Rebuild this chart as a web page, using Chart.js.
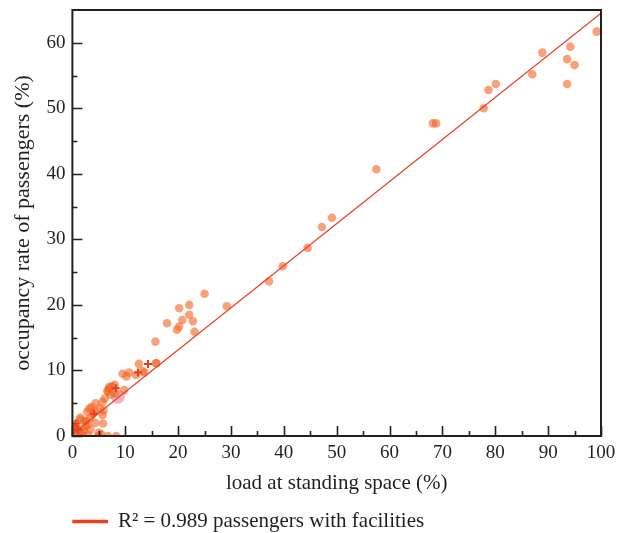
<!DOCTYPE html>
<html>
<head>
<meta charset="utf-8">
<script src="https://cdn.jsdelivr.net/npm/chart.js@4/dist/chart.umd.min.js"></script>
<style>
  html, body { margin: 0; padding: 0; background: #fff; }
  #wrap { width: 617px; height: 533px; }
</style>
</head>
<body>
<div id="wrap"><canvas id="chart"></canvas></div>
<script>
// measured points (load at standing space %, occupancy %)
const loadX = [99.2, 94.2, 88.9, 93.6, 95.0, 87.0, 93.6, 80.1, 78.7, 77.8, 68.2, 68.8,
  57.5, 49.1, 47.2, 44.5, 39.8, 37.2, 29.2, 25.0, 22.1, 20.2, 22.1, 20.8, 22.8, 17.9,
  20.2, 19.8, 23.1, 15.7, 15.9, 12.6, 15.8, 13.6, 13.3, 10.7, 10.2, 8.0, 6.9, 8.1,
  6.8, 6.1, 5.7, 4.4, 5.9, 4.2, 2.8, 3.9, 3.3, 5.8, 2.4, 0.8, 1.0, 2.2, 3.4, 5.0,
  6.7, 8.3, 0.3, 0.6, 2.0, 3.0, 2.8, 4.8, 1.4, 7.2, 9.5, 7.5, 5.2, 1.5, 0.4, 3.6, 1.2,
  12.0, 9.8, 6.6, 7.0, 5.7, 3.2, 2.6, 4.3, 1.5, 2.5, 0.5, 1.8, 5.4];
const occY = [61.7, 59.4, 58.5, 57.5, 56.6, 55.2, 53.7, 53.7, 52.8, 50.0, 47.7, 47.7,
  40.7, 33.3, 31.9, 28.7, 25.9, 23.6, 19.8, 21.7, 20.0, 19.5, 18.5, 17.7, 17.5, 17.2,
  16.7, 16.2, 15.9, 14.4, 11.1, 11.0, 11.1, 9.7, 9.9, 9.7, 9.1, 7.8, 7.2, 6.5,
  6.8, 5.7, 5.2, 5.0, 3.9, 3.8, 3.7, 3.4, 2.7, 1.9, 2.2, 1.9, 1.0, 0.8, 1.0, 0.5,
  0.0, 0.0, 0.3, 0.2, 0.2, 0.1, 1.7, 0.0, 0.0, 6.3, 9.5, 7.6, 4.2, 2.8, 1.4, 4.4, 0.6,
  9.3, 7.0, 6.9, 7.5, 3.2, 4.2, 2.3, 2.0, 2.5, 1.5, 1.2, 0.5, 0.3];

const crossX = [14.3, 12.4, 8.2, 4.1, 0.6, 1.1];
const crossY = [11.0, 9.7, 7.3, 3.4, 1.9, 1.0];

const pinkX = [8.6];
const pinkY = [6.0];

// fitted line, R^2 = 0.989
const fitX = [0, 100];
const fitY = [0.3, 64.5];

const xTicks = [0, 10, 20, 30, 40, 50, 60, 70, 80, 90, 100];
const yTicks = [0, 10, 20, 30, 40, 50, 60];

const toPts = (xs, ys) => xs.map((x, i) => ({ x: x, y: ys[i] }));

const lineRed = '#eb4123';
const ink = '#231f20';
const serif = "'Liberation Serif', 'DejaVu Serif', serif";

// frame + inward tick marks, placed with the chart's own scales
const frameTicks = {
  id: 'frameTicks',
  afterDatasetsDraw(chart) {
    const { ctx, chartArea: a, scales: { x, y } } = chart;
    ctx.save();
    ctx.strokeStyle = ink;
    ctx.lineWidth = 2;
    ctx.strokeRect(a.left, a.top, a.right - a.left, a.bottom - a.top);
    ctx.lineWidth = 1.6;
    ctx.beginPath();
    for (let v = 0; v <= 100; v += 5) {
      const px = Math.round(x.getPixelForValue(v)) + 0.5;
      const len = v % 10 === 0 ? 10 : 5;
      ctx.moveTo(px, a.bottom);
      ctx.lineTo(px, a.bottom - len);
    }
    for (let v = 0; v <= 60; v += 5) {
      const py = Math.round(y.getPixelForValue(v)) + 0.5;
      const len = v % 10 === 0 ? 10 : 5;
      ctx.moveTo(a.left, py);
      ctx.lineTo(a.left + len, py);
    }
    ctx.stroke();
    ctx.restore();
  }
};

new Chart(document.getElementById('chart'), {
  type: 'scatter',
  data: {
    datasets: [
      {
        label: 'R\u00B2 = 0.989 passengers with facilities',
        type: 'line',
        data: toPts(fitX, fitY),
        borderColor: lineRed,
        backgroundColor: lineRed,
        borderWidth: 1.3,
        pointRadius: 0,
        order: 0
      },
      {
        label: 'points',
        data: toPts(loadX, occY),
        backgroundColor: 'rgba(242,100,35,0.6)',
        borderWidth: 0,
        pointRadius: 4.3,
        order: 2
      },
      {
        label: 'pink',
        data: toPts(pinkX, pinkY),
        backgroundColor: 'rgba(240,110,150,0.55)',
        borderWidth: 0,
        pointRadius: 7,
        order: 3
      },
      {
        label: 'cross',
        data: toPts(crossX, crossY),
        pointStyle: 'cross',
        borderColor: '#e63d1c',
        borderWidth: 2,
        pointRadius: 4,
        order: 1
      }
    ]
  },
  options: {
    responsive: true,
    maintainAspectRatio: false,
    animation: false,
    layout: { padding: { top: 0, right: 0, left: 10, bottom: -9 } },
    plugins: {
      tooltip: { enabled: false },
      legend: {
        position: 'bottom',
        align: 'start',
        fullSize: false,
        labels: {
          filter: item => item.datasetIndex === 0,
          boxWidth: 35,
          boxHeight: 2,
          padding: 0,
          color: ink,
          font: { family: serif, size: 21 }
        }
      }
    },
    scales: {
      x: {
        type: 'linear',
        min: 0,
        max: 100,
        afterBuildTicks: s => { s.ticks = xTicks.map(v => ({ value: v })); },
        afterFit: s => { s.paddingRight = 16; },
        grid: { display: false, drawTicks: false },
        border: { display: false },
        ticks: { color: ink, padding: 6, font: { family: serif, size: 19 } },
        title: {
          display: true,
          text: 'load at standing space (%)',
          color: ink,
          padding: { top: 0, bottom: 15 },
          font: { family: serif, size: 21 }
        }
      },
      y: {
        type: 'linear',
        min: 0,
        max: 65,
        afterBuildTicks: s => { s.ticks = yTicks.map(v => ({ value: v })); },
        afterFit: s => { s.paddingTop = 10; },
        grid: { display: false, drawTicks: false },
        border: { display: false },
        ticks: { color: ink, padding: 7, font: { family: serif, size: 19 } },
        title: {
          display: true,
          text: 'occupancy rate of passengers (%)',
          color: ink,
          padding: { top: 0, bottom: 3 },
          font: { family: serif, size: 22 }
        }
      }
    }
  },
  plugins: [frameTicks]
});
</script>
</body>
</html>
